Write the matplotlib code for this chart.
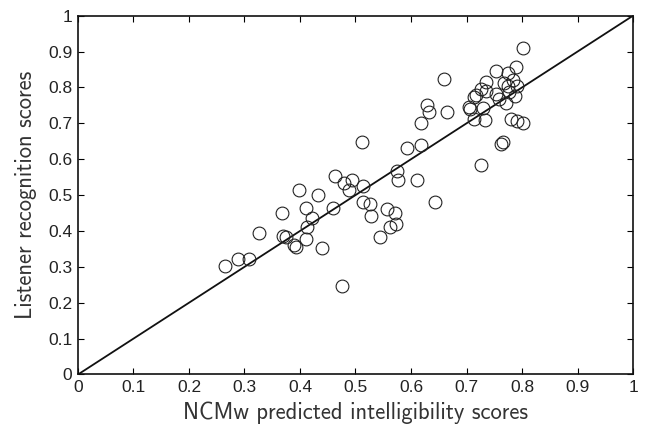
import matplotlib
matplotlib.use('Agg')
import matplotlib.pyplot as plt

# predicted (NCMw) vs listener scores
ncmw = [0.264, 0.288, 0.309, 0.326, 0.368, 0.398, 0.432, 0.411, 0.421, 0.412,
        0.370, 0.375, 0.390, 0.392, 0.410, 0.439, 0.463, 0.480, 0.493, 0.489,
        0.513, 0.460, 0.514, 0.527, 0.528, 0.557, 0.572, 0.562, 0.573, 0.544,
        0.475, 0.575, 0.576, 0.610, 0.644, 0.512, 0.592, 0.618, 0.618, 0.628,
        0.632, 0.660, 0.664, 0.726, 0.765, 0.763, 0.705, 0.707, 0.714, 0.717,
        0.730, 0.714, 0.733, 0.727, 0.736, 0.735, 0.753, 0.753, 0.759, 0.768,
        0.774, 0.774, 0.777, 0.772, 0.784, 0.789, 0.791, 0.787, 0.801, 0.781,
        0.791, 0.802]
listener = [0.303, 0.322, 0.322, 0.395, 0.449, 0.514, 0.501, 0.465, 0.436, 0.410,
            0.387, 0.384, 0.361, 0.356, 0.378, 0.352, 0.554, 0.535, 0.543, 0.515,
            0.524, 0.464, 0.480, 0.475, 0.442, 0.461, 0.451, 0.412, 0.420, 0.383,
            0.248, 0.568, 0.543, 0.542, 0.480, 0.649, 0.632, 0.641, 0.701, 0.750,
            0.731, 0.824, 0.731, 0.584, 0.649, 0.643, 0.745, 0.739, 0.774, 0.778,
            0.742, 0.713, 0.710, 0.796, 0.789, 0.815, 0.845, 0.782, 0.769, 0.812,
            0.840, 0.805, 0.786, 0.756, 0.820, 0.857, 0.803, 0.777, 0.911, 0.713,
            0.706, 0.700]

ticks = [0, 0.1, 0.2, 0.3, 0.4, 0.5, 0.6, 0.7, 0.8, 0.9, 1]
tick_labels = ['0', '0.1', '0.2', '0.3', '0.4', '0.5', '0.6', '0.7', '0.8', '0.9', '1']

fig = plt.figure(figsize=(6.46, 4.34), dpi=100)
ax = fig.add_axes([0.1207, 0.1371, 0.8592, 0.8267])

ax.plot([0, 1], [0, 1], color='#111111', linewidth=1.3)
ax.plot(ncmw, listener, 'o', markerfacecolor='none', markeredgecolor='#222222',
        markersize=9.2, markeredgewidth=0.8, linestyle='none')

ax.set_xlim(0, 1)
ax.set_ylim(0, 1)
ax.set_xticks(ticks)
ax.set_xticklabels(tick_labels, fontfamily='Liberation Sans', fontsize=12.5, color='#222222')
ax.set_yticks(ticks)
ax.set_yticklabels(tick_labels, fontfamily='Liberation Sans', fontsize=12.5, color='#222222')
ax.tick_params(direction='in', length=4, width=0.8, top=True, right=True, pad=4)
for s in ax.spines.values():
    s.set_linewidth(1.2)
    s.set_color('#111111')

ax.set_xlabel('NCMw predicted intelligibility scores', fontfamily='cmss10',
              fontsize=16.3, color='#333333', labelpad=5)
ax.set_ylabel('Listener recognition scores', fontfamily='cmss10',
              fontsize=16.3, color='#333333', labelpad=8)

fig.savefig('out.png', dpi=100)
